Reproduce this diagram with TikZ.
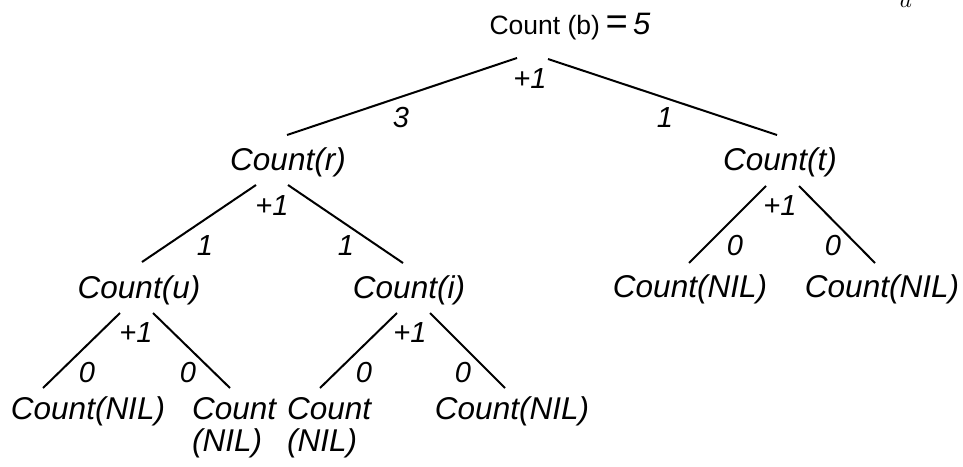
\documentclass[tikz,border=0pt]{standalone}
\usepackage{graphicx}
\usepackage{fontspec}
\setmainfont{Liberation Sans}
\usetikzlibrary{positioning, calc}

\begin{document}
\begin{tikzpicture}[
  x=1pt, y=-1pt,
  lbl/.style={inner sep=0pt, anchor=base, font=\fontsize{31.5}{32}\selectfont\itshape},
  num/.style={inner sep=0pt, anchor=base, font=\fontsize{29}{30}\selectfont\itshape},
  branch/.style={line width=2pt}
]
\useasboundingbox (0,0) rectangle (963,466);

%--------------------------------------
% Root
%--------------------------------------
\node[inner sep=0pt, anchor=base, font=\fontsize{26.5}{30}\selectfont] (countb) at (570,34)
  {Count (b)\hspace{5pt}{\fontsize{38}{38}\selectfont\itshape =}\hspace{6pt}{\fontsize{31}{32}\selectfont\itshape 5}};
\node[inner sep=0pt, anchor=base] (corner) at (906,7) {\scalebox{2.3}{$a$}};

%--------------------------------------
% Tree nodes
%--------------------------------------
\node[lbl] (countr) at (288,170) {Count(r)};
\node[lbl] (countt) at (780,170) {Count(t)};
\node[lbl] (countu) at (139,298) {Count(u)};
\node[lbl] (counti) at (409,298) {Count(i)};
\node[lbl] (nilua) at (88,419) {Count(NIL)};
\node[lbl, anchor=base west, align=left] (nilub) at (192,451) {Count\\(NIL)};
\node[lbl, anchor=base west, align=left] (nilia) at (287,451) {Count\\(NIL)};
\node[lbl] (nilib) at (512,419) {Count(NIL)};
\node[lbl] (nilta) at (690,297) {Count(NIL)};
\node[lbl] (niltb) at (882,297) {Count(NIL)};

%--------------------------------------
% Branch values
%--------------------------------------
\node[num] (plusb) at (530,88) {+1};
\node[num] (valr) at (401,127) {3};
\node[num] (valt) at (665,127) {1};

\node[num] (plusr) at (272,215) {+1};
\node[num] (valu) at (205,255) {1};
\node[num] (vali) at (346,255) {1};

\node[num] (plust) at (780,215) {+1};
\node[num] (valta) at (735,255) {0};
\node[num] (valtb) at (833,255) {0};

\node[num] (plusu) at (136,342) {+1};
\node[num] (valua) at (87,382) {0};
\node[num] (valub) at (188,382) {0};

\node[num] (plusi) at (410,342) {+1};
\node[num] (valia) at (364,382) {0};
\node[num] (valib) at (463,382) {0};

%--------------------------------------
% Branches
%--------------------------------------
\draw[branch] ($(countb.base)+(-53,24)$) -- ($(countr.base)+(-1,-35)$);
\draw[branch] ($(countb.base)+(-22,25)$) -- ($(countt.base)+(-3,-35)$);

\draw[branch] ($(countr.base)+(-32,15)$) -- ($(countu.base)+(3,-36)$);
\draw[branch] ($(countr.base)+(0,15)$) -- ($(counti.base)+(-6,-35)$);

\draw[branch] ($(countt.base)+(-14,16)$) -- ($(nilta.base)+(-1,-34)$);
\draw[branch] ($(countt.base)+(19,16)$) -- ($(niltb.base)+(-7,-34)$);

\draw[branch] ($(countu.base)+(-19,15)$) -- ($(nilua.base)+(-45,-31)$);
\draw[branch] ($(countu.base)+(14,15)$) -- ($(nilub.base west)+(38,-63)$);

\draw[branch] ($(counti.base)+(-12,15)$) -- ($(nilia.base west)+(33,-63)$);
\draw[branch] ($(counti.base)+(21,15)$) -- ($(nilib.base)+(-7,-31)$);

\end{tikzpicture}
\end{document}
